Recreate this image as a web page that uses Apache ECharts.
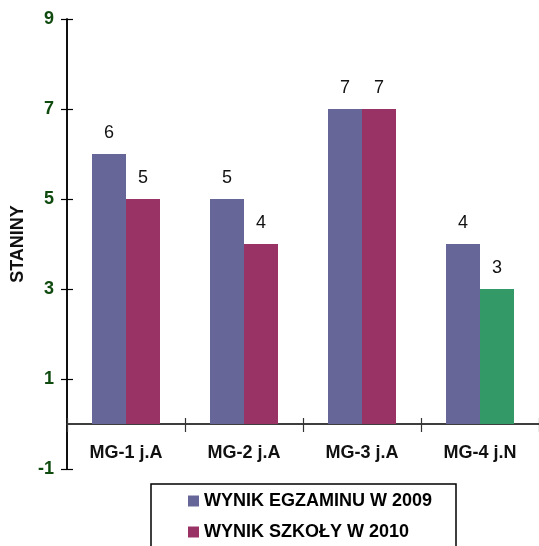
<!DOCTYPE html>
<html>
<head>
<meta charset="utf-8">
<script src="https://cdn.jsdelivr.net/npm/echarts@6/dist/echarts.min.js"></script>
<style>html,body{margin:0;padding:0;background:#fff}#c{width:539px;height:546px}</style>
</head>
<body>
<div id="c"></div>
<script>
const categories = ['MG-1 j.A', 'MG-2 j.A', 'MG-3 j.A', 'MG-4 j.N'];
const exam2009 = [6, 5, 7, 4];
const school2010 = [5, 4, 7, 3];
const seriesNames = ['WYNIK EGZAMINU W 2009', 'WYNIK SZKOŁY W 2010'];
const yTicks = [-1, 1, 3, 5, 7, 9];

const FONT = '"Liberation Sans", Arial, sans-serif';
const BLUE = '#666699', MAG = '#993366', GREEN = '#339966';

const chart = echarts.init(document.getElementById('c'), null, {renderer: 'canvas'});

const schoolData = school2010.map((v, i) => i === 3 ? {value: v, itemStyle: {color: GREEN}} : v);

const yBase = {
  type: 'value', min: yTicks[0], max: yTicks[yTicks.length - 1], interval: 2,
  splitLine: {show: false}, position: 'left'
};

chart.setOption({
  animation: false,
  grid: {left: 67, top: 19, width: 475, height: 450, containLabel: false},
  xAxis: [
    {
      type: 'category', data: categories, position: 'bottom',
      axisLine: {show: false, onZero: false},
      axisTick: {show: false},
      axisLabel: {margin: -25, fontFamily: FONT, fontSize: 18, fontWeight: 'bold', color: '#111'},
      splitLine: {show: false}
    },
    {
      type: 'category', data: categories, position: 'bottom',
      axisLine: {show: true, onZero: true, onZeroAxisIndex: 0, lineStyle: {color: '#333', width: 1.5}},
      axisTick: {show: true, inside: false, length: 8, lineStyle: {color: '#333', width: 1.2}},
      axisLabel: {show: false},
      splitLine: {show: false}
    },
    {
      type: 'category', data: categories, position: 'bottom',
      axisLine: {show: true, onZero: true, onZeroAxisIndex: 1, lineStyle: {color: '#333', width: 1.5}},
      axisTick: {show: true, inside: false, length: -6, lineStyle: {color: '#333', width: 1.2}},
      axisLabel: {show: false},
      splitLine: {show: false}
    }
  ],
  yAxis: [
    Object.assign({}, yBase, {
      name: 'STANINY', nameLocation: 'middle', nameGap: 35, nameRotate: 90,
      nameTextStyle: {fontFamily: FONT, fontSize: 18, fontWeight: 'bold', color: '#111'},
      axisLine: {show: true, onZero: false, lineStyle: {color: '#000', width: 1.5}},
      axisTick: {show: true, inside: false, length: 6, lineStyle: {color: '#000', width: 1.2}},
      axisLabel: {margin: 13, fontFamily: FONT, fontSize: 18, fontWeight: 'bold', color: '#0f4a0f',
        formatter: v => String(v)}
    }),
    Object.assign({}, yBase, {
      axisLine: {show: true, onZero: false, lineStyle: {color: '#000', width: 1.5}},
      axisTick: {show: true, inside: false, length: -6, lineStyle: {color: '#000', width: 1.2}},
      axisLabel: {show: false}
    })
  ],
  legend: {
    orient: 'vertical', left: 188, top: 492, padding: 0, itemWidth: 11, itemHeight: 11, itemGap: 13,
    icon: 'rect', data: seriesNames,
    textStyle: {fontFamily: FONT, fontSize: 18, fontWeight: 'bold', color: '#000'}
  },
  graphic: [{
    type: 'rect', z: -1,
    shape: {x: 151, y: 484, width: 305, height: 100},
    style: {fill: 'none', stroke: '#000', lineWidth: 1.5}
  }],
  series: [
    {
      name: seriesNames[0], type: 'bar', data: exam2009, barWidth: 34, barGap: '0%',
      xAxisIndex: 0, yAxisIndex: 0,
      itemStyle: {color: BLUE},
      label: {show: true, position: 'top', distance: 12, fontFamily: FONT, fontSize: 18, color: '#111'}
    },
    {
      name: seriesNames[1], type: 'bar', data: schoolData, barWidth: 34, barGap: '0%',
      xAxisIndex: 0, yAxisIndex: 0,
      itemStyle: {color: MAG},
      label: {show: true, position: 'top', distance: 12, fontFamily: FONT, fontSize: 18, color: '#111'}
    }
  ]
});
</script>
</body>
</html>
